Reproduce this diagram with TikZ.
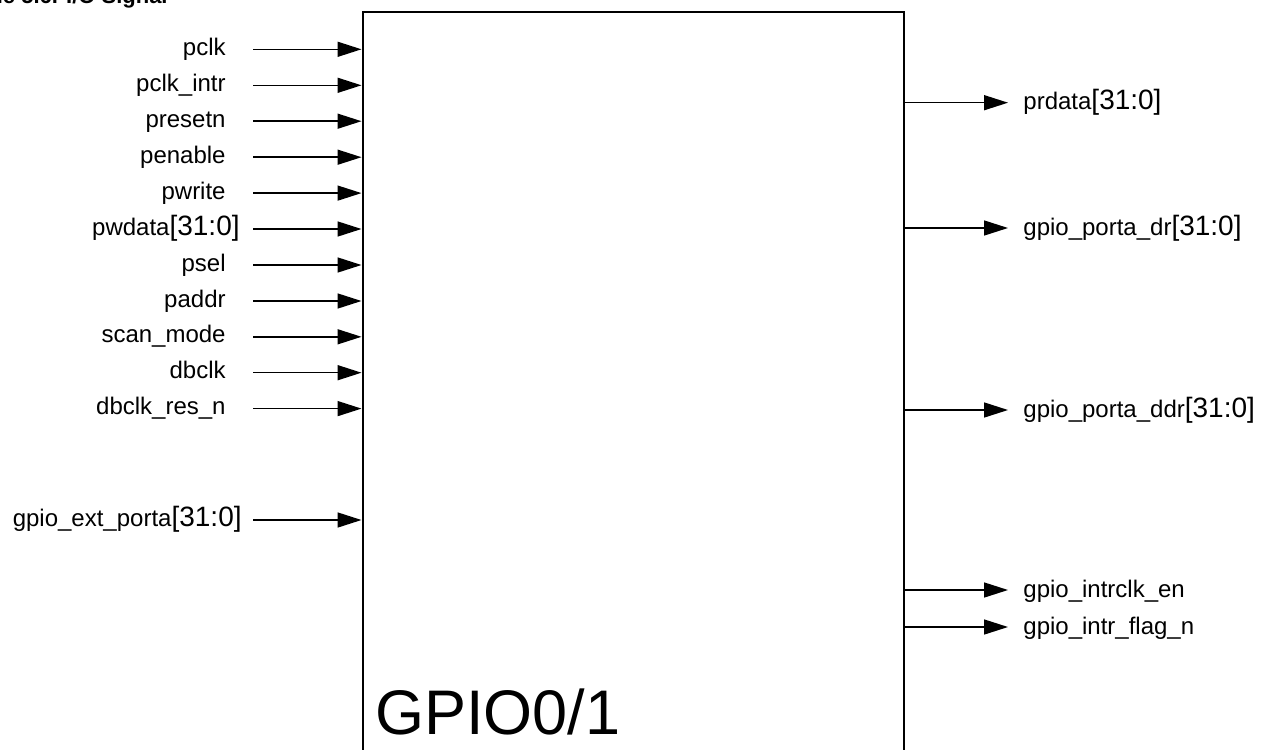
\documentclass[tikz,border=0pt]{standalone}
\usepackage{fontspec}
\setmainfont{Liberation Sans}
\usetikzlibrary{arrows.meta}
\newcommand{\busidx}{{\fontsize{14pt}{14pt}\selectfont[31:0]}}
\tikzset{
  pin/.style={-{Triangle[length=12pt,width=7.5pt]}, line width=0.75pt},
  sig/.style={inner sep=0pt, font=\fontsize{12pt}{12pt}\selectfont},
}

\begin{document}
\begin{tikzpicture}[x=0.5pt, y=-0.5pt,
  chip/.style={draw, line width=1pt, inner sep=0pt,
               minimum width=270.75pt, minimum height=393.75pt},
  insig/.style={sig, anchor=base east},
  outsig/.style={sig, anchor=base west}
]
  \useasboundingbox (0,0) rectangle (1267,749);
  \node[anchor=base east, inner sep=0pt, font=\bfseries\fontsize{11pt}{11pt}\selectfont] (title) at (168,4) {Table 5.6. I/O Signal};
  \node[chip] (gpio) at (633.25,406.25) {};
  \node[anchor=base west, inner sep=0pt, font=\fontsize{31.5pt}{31.5pt}\selectfont] (name) at (375,734) {GPIO0/1};

  \coordinate (pclk-in) at (253,49.3);
  \coordinate (pclkintr-in) at (253,85.3);
  \coordinate (presetn-in) at (253,121.2);
  \coordinate (penable-in) at (253,157.2);
  \coordinate (pwrite-in) at (253,193.1);
  \coordinate (pwdata-in) at (253,229);
  \coordinate (psel-in) at (253,265);
  \coordinate (paddr-in) at (253,301);
  \coordinate (scanmode-in) at (253,336.8);
  \coordinate (dbclk-in) at (253,372.7);
  \coordinate (dbclkres-in) at (253,408.6);
  \coordinate (extporta-in) at (253,520);

  \node[insig] (pclk) at (226,55.3) {pclk};
  \node[insig] (pclkintr) at (226,91.3) {pclk\_intr};
  \node[insig] (presetn) at (226,127.2) {presetn};
  \node[insig] (penable) at (226,163.2) {penable};
  \node[insig] (pwrite) at (226,199.1) {pwrite};
  \node[insig] (pwdata) at (240,235) {pwdata\busidx};
  \node[insig] (psel) at (226,271) {psel};
  \node[insig] (paddr) at (226,307) {paddr};
  \node[insig] (scanmode) at (226,342.8) {scan\_mode};
  \node[insig] (dbclk) at (226,378.7) {dbclk};
  \node[insig] (dbclkres) at (226,414.6) {dbclk\_res\_n};
  \node[insig] (extporta) at (242,526) {gpio\_ext\_porta\busidx};

  \draw[pin] (pclk-in) -- (pclk-in -| gpio.west);
  \draw[pin] (pclkintr-in) -- (pclkintr-in -| gpio.west);
  \draw[pin] (presetn-in) -- (presetn-in -| gpio.west);
  \draw[pin] (penable-in) -- (penable-in -| gpio.west);
  \draw[pin] (pwrite-in) -- (pwrite-in -| gpio.west);
  \draw[pin] (pwdata-in) -- (pwdata-in -| gpio.west);
  \draw[pin] (psel-in) -- (psel-in -| gpio.west);
  \draw[pin] (paddr-in) -- (paddr-in -| gpio.west);
  \draw[pin] (scanmode-in) -- (scanmode-in -| gpio.west);
  \draw[pin] (dbclk-in) -- (dbclk-in -| gpio.west);
  \draw[pin] (dbclkres-in) -- (dbclkres-in -| gpio.west);
  \draw[pin] (extporta-in) -- (extporta-in -| gpio.west);

  \coordinate (prdata-out) at (1008,102.7);
  \coordinate (portadr-out) at (1008,228);
  \coordinate (portaddr-out) at (1008,410);
  \coordinate (intrclk-out) at (1008,590);
  \coordinate (intrflag-out) at (1008,627);

  \node[outsig] (prdata) at (1023,110) {prdata\busidx};
  \node[outsig] (portadr) at (1023,235) {gpio\_porta\_dr\busidx};
  \node[outsig] (portaddr) at (1023,417) {gpio\_porta\_ddr\busidx};
  \node[outsig] (intrclk) at (1023,597) {gpio\_intrclk\_en};
  \node[outsig] (intrflag) at (1023,634) {gpio\_intr\_flag\_n};

  \draw[pin] (prdata-out -| gpio.east) -- (prdata-out);
  \draw[pin] (portadr-out -| gpio.east) -- (portadr-out);
  \draw[pin] (portaddr-out -| gpio.east) -- (portaddr-out);
  \draw[pin] (intrclk-out -| gpio.east) -- (intrclk-out);
  \draw[pin] (intrflag-out -| gpio.east) -- (intrflag-out);
\end{tikzpicture}
\end{document}
